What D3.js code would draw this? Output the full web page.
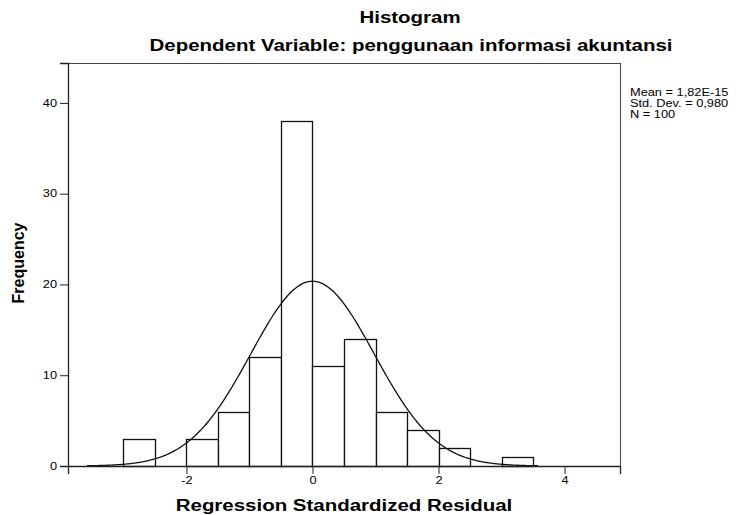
<!DOCTYPE html>
<html>
<head>
<meta charset="utf-8">
<script src="https://cdn.jsdelivr.net/npm/d3@7"></script>
<style>
  body { margin: 0; background: #fff; }
  text { font-family: "Liberation Sans", Arial, sans-serif; fill: #000; }
</style>
</head>
<body>
<div id="chart-area"></div>
<script>
// Histogram bins (lower edge, upper edge) and counts
var binLower = [-3, -2, -1.5, -1, -0.5, 0, 0.5, 1, 1.5, 2, 3];
var binUpper = [-2.5, -1.5, -1, -0.5, 0, 0.5, 1, 1.5, 2, 2.5, 3.5];
var counts   = [3, 3, 6, 12, 38, 11, 14, 6, 4, 2, 1];

var xTicks = [-2, 0, 2, 4];
var yTicks = [0, 10, 20, 30, 40];

// Summary stats shown in the legend (used for the normal curve)
var statLabels = ["Mean = 1,82E-15", "Std. Dev. = 0,980", "N = 100"];
var meanVal = 0, sdVal = 0.980, nVal = 100, binWidth = 0.5;

// text in the source picture is horizontally stretched
var stretch = 1.28;

var margin = { left: 68, right: 121, top: 63, bottom: 49 },
    width = 741 - margin.left - margin.right,
    height = 515 - margin.top - margin.bottom;

var svg = d3.select("#chart-area").append("svg")
    .attr("width", 741)
    .attr("height", 515);

function wideText(parent, x, y, size, bold, str) {
    return parent.append("text")
        .attr("transform", "translate(" + x + "," + y + ") scale(" + stretch + ",1)")
        .attr("text-anchor", "middle")
        .style("font-weight", bold ? "bold" : "normal")
        .style("font-size", size + "px")
        .text(str);
}

// Titles
wideText(svg, 410, 23, 16, true, "Histogram");
wideText(svg, 411, 51, 16, true, "Dependent Variable: penggunaan informasi akuntansi");

var g = svg.append("g")
    .attr("transform", "translate(" + margin.left + "," + margin.top + ")");

// Scales
var x = d3.scaleLinear().domain([-3.88, 4.88]).range([0, width]);
var y = d3.scaleLinear().domain([0, 44.4]).range([height, 0]);

// Frame
g.append("rect")
    .attr("x", 0.5).attr("y", 0.5)
    .attr("width", width).attr("height", height)
    .attr("fill", "none")
    .attr("stroke", "#444")
    .attr("stroke-width", 1);

// Bars
g.selectAll(".bar")
    .data(counts)
    .enter().append("rect")
    .attr("class", "bar")
    .attr("x", function(d, i) { return Math.round(x(binLower[i])) + 0.5; })
    .attr("y", function(d) { return Math.round(y(d)) + 0.5; })
    .attr("width", function(d, i) { return Math.round(x(binUpper[i])) - Math.round(x(binLower[i])); })
    .attr("height", function(d) { return Math.round(y(0)) - Math.round(y(d)); })
    .attr("fill", "#fff")
    .attr("stroke", "#111")
    .attr("stroke-width", 1.3);

// Normal curve from the legend stats
var curveX = d3.range(-3.58, 3.581, 0.02);
var line = d3.line()
    .x(function(v) { return x(v); })
    .y(function(v) {
        var z = (v - meanVal) / sdVal;
        return y(nVal * binWidth / (sdVal * Math.sqrt(2 * Math.PI)) * Math.exp(-0.5 * z * z));
    });
g.append("path")
    .attr("d", line(curveX))
    .attr("fill", "none")
    .attr("stroke", "#111")
    .attr("stroke-width", 1.3);

// Axes
var xAxis = g.append("g")
    .attr("transform", "translate(0," + height + ")")
    .call(d3.axisBottom(x).tickValues(xTicks).tickSize(8).tickPadding(3).tickFormat(d3.format("d")));
var yAxis = g.append("g")
    .call(d3.axisLeft(y).tickValues(yTicks).tickSize(8).tickPadding(3));
[xAxis, yAxis].forEach(function(a) {
    a.select(".domain").attr("stroke", "#222").attr("stroke-width", 1.3);
    a.selectAll(".tick line").attr("stroke", "#222");
    a.selectAll(".tick text")
        .style("font-size", "10px")
        .style("font-family", "\"Liberation Sans\", Arial, sans-serif")
        .attr("fill", "#222");
});
xAxis.selectAll(".tick text")
    .text(function(d) { return d < 0 ? "-" + Math.abs(d) : d; })
    .attr("transform", "scale(" + stretch + ",1)");
yAxis.selectAll(".tick text")
    .attr("x", 0)
    .attr("transform", "translate(-11,0) scale(" + stretch + ",1)");

// Axis titles
wideText(svg, margin.left + width / 2, 511, 16, true, "Regression Standardized Residual");
svg.append("text")
    .attr("transform", "translate(24,263) rotate(-90)")
    .attr("text-anchor", "middle")
    .style("font-weight", "bold").style("font-size", "16px")
    .text("Frequency");

// Stats legend
svg.append("g")
    .selectAll("text")
    .data(statLabels)
    .enter().append("text")
    .attr("transform", function(d, i) {
        return "translate(630," + (95.5 + i * 11) + ") scale(" + stretch + ",1)";
    })
    .style("font-size", "10px")
    .attr("fill", "#222")
    .text(function(d) { return d; });
</script>
</body>
</html>
